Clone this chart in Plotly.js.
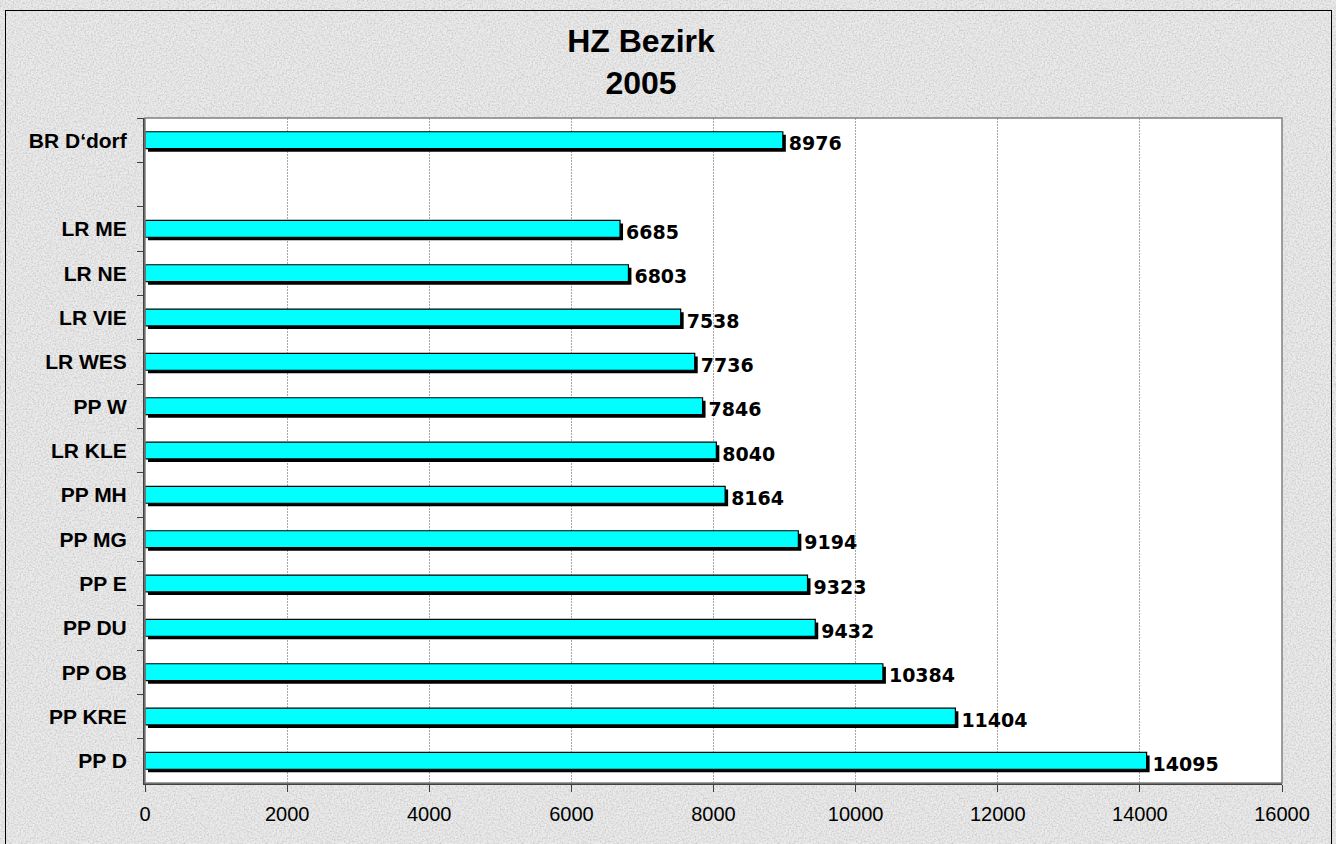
<!DOCTYPE html>
<html>
<head>
<meta charset="utf-8">
<script src="https://cdn.plot.ly/plotly-3.0.1.min.js"></script>
<style>
  html, body { margin:0; padding:0; width:1336px; height:844px; overflow:hidden; background:#e6e6e6; }
  #wrap { position:relative; width:1336px; height:844px;
    background-color:#ebebeb;
    background-image:url("data:image/svg+xml;utf8,<svg xmlns='http://www.w3.org/2000/svg' width='256' height='256'><filter id='n' x='0' y='0' width='1' height='1'><feTurbulence type='fractalNoise' baseFrequency='0.6' numOctaves='3' stitchTiles='stitch'/><feColorMatrix type='matrix' values='0 0 0 0 0.45 0 0 0 0 0.45 0 0 0 0 0.45 1.2 0 0 0 -0.45'/></filter><rect x='0' y='0' width='256' height='256' filter='url(%23n)'/></svg>");
  }
  #chart { position:absolute; left:0; top:0; width:1336px; height:844px; }
  #frame { position:absolute; left:5px; top:10px; width:1325px; height:840px; border:1px solid #000; pointer-events:none; }
</style>
</head>
<body>
<div id="wrap">
  <div id="chart"></div>
  <div id="frame"></div>
</div>
<script>
// Data (top to bottom), ' ' is the empty slot
const categories = ["BR D\u2018dorf", " ", "LR ME", "LR NE", "LR VIE", "LR WES", "PP W", "LR KLE", "PP MH", "PP MG", "PP E", "PP DU", "PP OB", "PP KRE", "PP D"];
const values = [8976, null, 6685, 6803, 7538, 7736, 7846, 8040, 8164, 9194, 9323, 9432, 10384, 11404, 14095];
const xTicks = [0, 2000, 4000, 6000, 8000, 10000, 12000, 14000, 16000];
const chartTitle = "HZ Bezirk<br>2005";

const barWidth = 0.38;
const shadowShiftX = 42;      // ~3px in data units
const shadowShiftY = 0.07;    // ~3px in category units

const shadow = {
  type: 'bar', orientation: 'h',
  y: categories, x: values,
  base: values.map(v => v == null ? null : shadowShiftX),
  width: barWidth, offset: -barWidth/2 + shadowShiftY,
  marker: { color: '#000000', line: { width: 0 } },
  text: values.map(v => v == null ? '' : String(v)),
  textposition: 'outside',
  constraintext: 'none',
  textfont: { family: 'DejaVu Sans, Arial, sans-serif', size: 19, color: '#000', weight: 'bold' },
  cliponaxis: false,
  hoverinfo: 'skip', showlegend: false
};

const main = {
  type: 'bar', orientation: 'h',
  y: categories, x: values,
  width: barWidth, offset: -barWidth/2,
  marker: { color: '#00FFFF', line: { color: '#000000', width: 1.2 } },
  hoverinfo: 'x+y', showlegend: false
};

const layout = {
  width: 1336, height: 844,
  margin: { l: 145, r: 54, t: 118, b: 61, pad: 0 },
  paper_bgcolor: 'rgba(0,0,0,0)',
  plot_bgcolor: '#ffffff',
  barmode: 'overlay',
  title: {
    text: chartTitle,
    font: { family: 'Liberation Sans, Arial, sans-serif', size: 32, color: '#000', weight: 'bold' },
    x: 641/1336, xanchor: 'center', xref: 'container',
    y: 1 - 52/844, yanchor: 'top', yref: 'container'
  },
  xaxis: {
    range: [0, 16000],
    tickvals: xTicks, ticktext: xTicks.map(String),
    ticks: 'outside', ticklen: 7, tickcolor: '#404040', tickwidth: 1,
    tickfont: { family: 'Liberation Sans, Arial, sans-serif', size: 20, color: '#000' },
    showgrid: true, gridcolor: '#a8a8a8', gridwidth: 1, griddash: '2px,1px',
    zeroline: false,
    showline: true, linecolor: '#404040', linewidth: 2,
    ticklabelstandoff: 5,
    fixedrange: true
  },
  yaxis: {
    type: 'category',
    categoryorder: 'array', categoryarray: categories,
    range: [categories.length - 0.5, -0.5],
    ticks: 'outside', tickson: 'boundaries', ticklen: 6, tickcolor: '#404040', tickwidth: 1,
    tickfont: { family: 'Liberation Sans, Arial, sans-serif', size: 21, color: '#000', weight: 'bold' },
    ticklabelstandoff: 12,
    showgrid: false, zeroline: false,
    showline: true, linecolor: '#404040', linewidth: 2,
    fixedrange: true
  },
  shapes: [{
    type: 'rect', xref: 'paper', yref: 'paper', x0: 0, x1: 1, y0: 0, y1: 1,
    line: { color: '#808080', width: 1.5 }, fillcolor: 'rgba(0,0,0,0)', layer: 'above'
  }]
};

Plotly.newPlot('chart', [shadow, main], layout, { displayModeBar: false, staticPlot: true });
</script>
</body>
</html>
